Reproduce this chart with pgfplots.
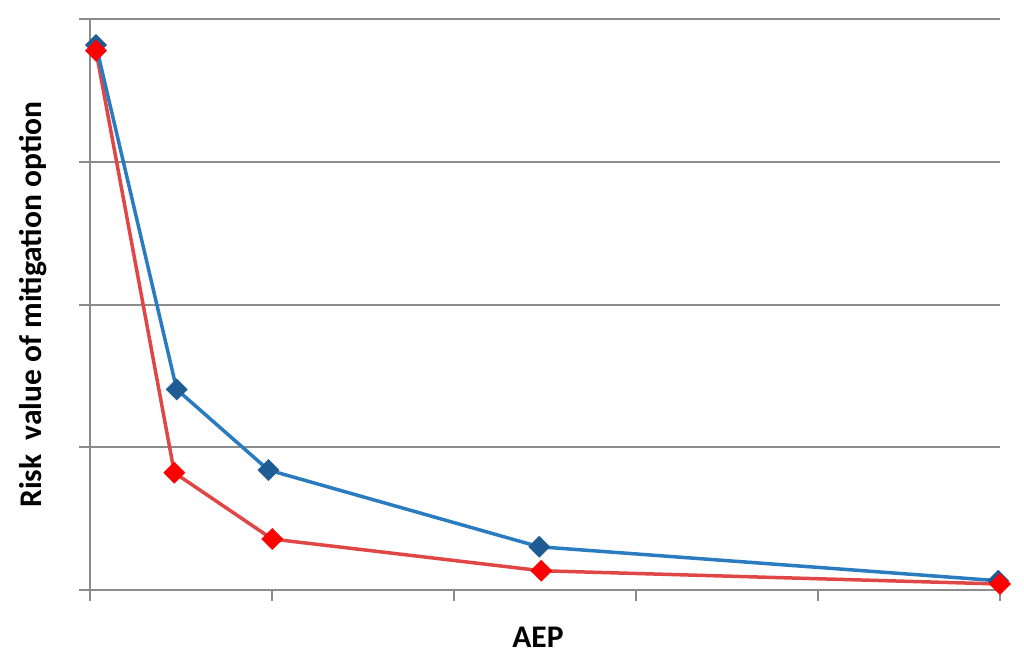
\documentclass[border=0pt]{standalone}
\usepackage{pgfplots}
\pgfplotsset{compat=1.18}
\usepackage{fontspec}
\setmainfont{Carlito}
\definecolor{bline}{HTML}{2B7BC0}
\definecolor{bmark}{HTML}{1F5C94}
\definecolor{rline}{HTML}{E04646}
\definecolor{rmark}{HTML}{FF0000}
\definecolor{gridc}{HTML}{8C8C8C}
\pgfplotstableread{
x y
0.030 3.82
0.474 1.406
0.978 0.841
2.467 0.303
4.990 0.065
}\blue
\pgfplotstableread{
x y
0.030 3.78
0.461 0.822
0.999 0.357
2.478 0.135
5.000 0.042
}\red
\begin{document}
\begin{tikzpicture}
\begin{axis}[
  scale only axis, width=909.5pt, height=570.7pt,
  xmin=0, xmax=5, ymin=0, ymax=4,
  xtick={0,1,2,3,4,5}, ytick={0,1,2,3,4},
  xticklabels={}, yticklabels={},
  axis lines=left,
  axis line style={-, draw=gridc, line width=2pt},
  tick align=outside,
  major tick length=11pt,
  tick style={draw=gridc, line width=2pt},
  ymajorgrids,
  grid style={draw=gridc, line width=2pt},
  clip=false,
  xlabel={\textbf{AEP}},
  ylabel={\textbf{Risk\ \ value of mitigation option}},
  label style={font=\fontsize{31.5}{36}\selectfont},
  xlabel style={at={(axis description cs:0.492,-0.1016)}, anchor=base},
  ylabel style={at={(axis description cs:-0.0539,0.5)}, anchor=base},
]
\path (rel axis cs:0,0) ++(-90.5pt,-75pt) rectangle ++(1024pt,665pt);
\addplot[rline, line width=3.5pt, no marks] table[x=x,y=y] {\red};
\addplot[bline, line width=3.5pt, no marks] table[x=x,y=y] {\blue};
\addplot[only marks, mark=square*, mark size=7.5pt, mark options={rotate=45, draw=bmark, fill=bmark}] table[x=x,y=y] {\blue};
\addplot[only marks, mark=square*, mark size=7.5pt, mark options={rotate=45, draw=rmark, fill=rmark}] table[x=x,y=y] {\red};
\end{axis}
\end{tikzpicture}
\end{document}
